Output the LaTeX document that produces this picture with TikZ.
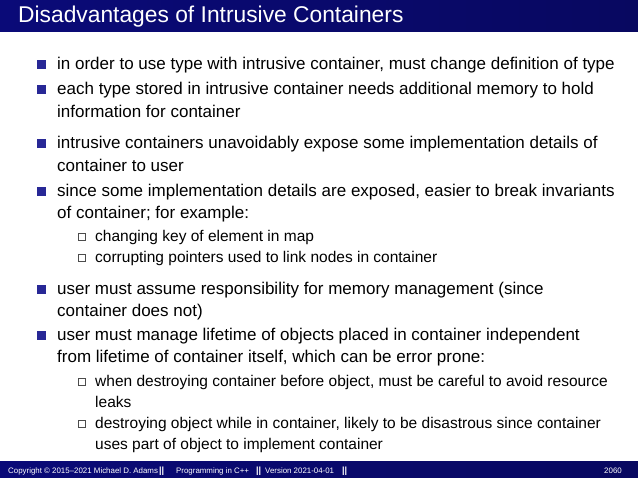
\documentclass[tikz,border=0pt]{standalone}
\usepackage{fontspec}
\setmainfont{Liberation Sans}
\definecolor{barblue}{RGB}{10,10,120}
\definecolor{bul}{RGB}{40,40,150}
\begin{document}
\begin{tikzpicture}[x=1pt,y=1pt,
  txt/.style={anchor=base west,inner sep=0,font=\fontsize{17}{19}\selectfont},
  stxt/.style={anchor=base west,inner sep=0,font=\fontsize{15.5}{17}\selectfont},
  bsq/.style={fill=bul,minimum size=9pt,inner sep=0},
  bsub/.style={draw=black!70,line width=0.5pt,minimum size=7pt,inner sep=0},
  ft/.style={anchor=base west,inner sep=0,text=white,font=\fontsize{7.9}{9}\selectfont}]
\useasboundingbox (0,0) rectangle (638,478);
\fill[white] (0,0) rectangle (638,478);
\shade[left color=barblue,right color=barblue!80!black] (0,446) rectangle (638,478);
\node[anchor=base west,inner sep=0,text=white,font=\fontsize{22.8}{25}\selectfont] (title) at (18,455) {Disadvantages of Intrusive Containers};
\shade[left color=barblue,right color=barblue!80!black] (0,0) rectangle (638,16);
\node[ft] (f1) at (8,4.5) {Copyright \textcopyright\ 2015--2021 Michael D. Adams};
\node[ft,font=\bfseries\fontsize{9}{9}\selectfont] (s1) at (159,4.5) {||};
\node[ft] (f2) at (176,4.5) {Programming in C++};
\node[ft,font=\bfseries\fontsize{9}{9}\selectfont] (s2) at (256,4.5) {||};
\node[ft] (f3) at (265,4.5) {Version 2021-04-01};
\node[ft,font=\bfseries\fontsize{9}{9}\selectfont] (s3) at (342,4.5) {||};
\node[ft,anchor=base east] (f4) at (622,4.5) {2060};
% main bullets
\foreach \y/\n in {408/b1,383/b2,329/b3,281/b4,183/b5,137/b6}{\node[bsq] (\n) at (41,\y+5.5) {};}
\foreach \y/\n in {236/c1,215/c2,91/c3,49/c4}{\node[bsub] (\n) at (82,\y+5) {};}
\node[txt] (t1) at (57,408) {in order to use type with intrusive container, must change definition of type};
\node[txt] (t2) at (57,383) {each type stored in intrusive container needs additional memory to hold};
\node[txt] (t2b) at (57,360) {information for container};
\node[txt] (t3) at (57,329) {intrusive containers unavoidably expose some implementation details of};
\node[txt] (t3b) at (57,306) {container to user};
\node[txt] (t4) at (57,281) {since some implementation details are exposed, easier to break invariants};
\node[txt] (t4b) at (57,259) {of container; for example:};
\node[stxt] (u1) at (95,236) {changing key of element in map};
\node[stxt] (u2) at (95,215) {corrupting pointers used to link nodes in container};
\node[txt] (t5) at (57,183) {user must assume responsibility for memory management (since};
\node[txt] (t5b) at (57,161) {container does not)};
\node[txt] (t6) at (57,137) {user must manage lifetime of objects placed in container independent};
\node[txt] (t6b) at (57,115) {from lifetime of container itself, which can be error prone:};
\node[stxt] (u3) at (95,91) {when destroying container before object, must be careful to avoid resource};
\node[stxt] (u3b) at (95,70) {leaks};
\node[stxt] (u4) at (95,49) {destroying object while in container, likely to be disastrous since container};
\node[stxt] (u4b) at (95,28) {uses part of object to implement container};
\end{tikzpicture}
\end{document}
